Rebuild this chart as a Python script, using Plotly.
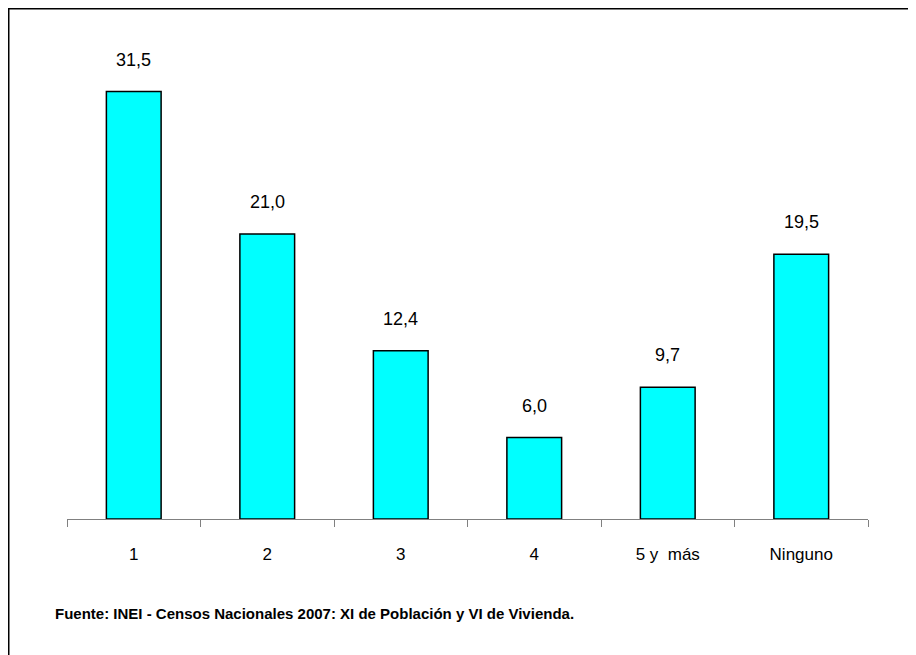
import plotly.graph_objects as go

categories = ["1", "2", "3", "4", "5 y  más", "Ninguno"]
values = [31.5, 21.0, 12.4, 6.0, 9.7, 19.5]
source = "Fuente: INEI - Censos Nacionales 2007: XI de Población y VI de Vivienda."

# page has an 8px body margin, so figure coords = screen coords - 8
OFF = 8
W, H = 916, 655
L, R, T, B = 59, 56, 36, 144
pw, ph = W - L - R, H - T - B


def px(x):
    return (x - OFF - L) / pw


def py(y):
    return (H - B - (y - OFF)) / ph


fig = go.Figure()

fig.add_trace(go.Bar(
    x=categories,
    y=values,
    width=0.41,
    marker=dict(color="#00FFFF", line=dict(color="#000000", width=1.5)),
    hoverinfo="skip",
))

# value labels above each bar, decimal comma
for i, v in enumerate(values):
    fig.add_annotation(
        x=i, y=v, text=f"{v:.1f}".replace(".", ","),
        showarrow=False, yanchor="middle", yshift=32,
        font=dict(family="Liberation Sans, Arial", size=18, color="#000000"),
    )

# source note
fig.add_annotation(
    xref="paper", yref="paper", x=px(53), y=py(613),
    xanchor="left", yanchor="middle", showarrow=False,
    text=f"<b>{source}</b>",
    font=dict(family="Liberation Sans, Arial", size=15, color="#000000"),
)

# outer frame
fig.add_shape(
    type="rect", xref="paper", yref="paper",
    x0=px(8.5), x1=px(960), y0=py(700), y1=py(8.5),
    line=dict(color="#000000", width=2), layer="above",
)

fig.update_layout(
    width=W, height=H,
    margin=dict(l=L, r=R, t=T, b=B),
    paper_bgcolor="#FFFFFF",
    plot_bgcolor="#FFFFFF",
    showlegend=False,
    font=dict(family="Liberation Sans, Arial", color="#000000"),
    xaxis=dict(
        type="category",
        showline=True, linecolor="#808080", linewidth=1,
        ticks="outside", tickson="boundaries", ticklen=7,
        tickcolor="#808080", tickwidth=1,
        ticklabelstandoff=20,
        tickfont=dict(size=17, color="#000000"),
        showgrid=False, zeroline=False,
    ),
    yaxis=dict(
        range=[0, 35], visible=False, showgrid=False, zeroline=False,
    ),
)

fig.write_html("out.html")
